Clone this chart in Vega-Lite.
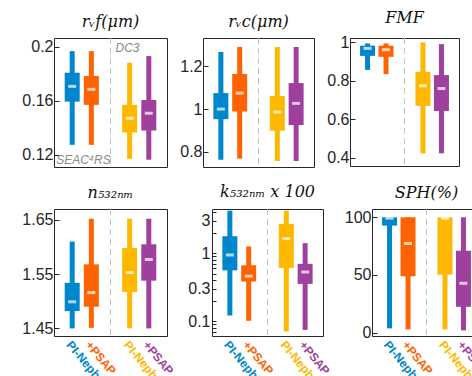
{
  "$schema": "https://vega.github.io/schema/vega-lite/v6.json",
  "autosize": {"type": "none"},
  "padding": {"left": 54, "top": 38, "right": 418, "bottom": 338},
  "background": "white",
  "spacing": 15,
  "config": {
    "view": {"stroke": "#262626", "strokeWidth": 1},
    "font": "Liberation Sans",
    "concat": {"spacing": 11},
    "title": {"font": "DejaVu Serif", "fontStyle": "italic", "fontWeight": "normal", "fontSize": 16, "color": "#111", "offset": 8},
    "axis": {"grid": false, "labelFont": "Liberation Sans", "labelFontSize": 16, "labelColor": "#262626", "domain": false, "tickColor": "#262626", "title": null}
  },
  "datasets": {
    "box": [
      {"p": "rvf", "inst": "A", "lo": 0.1274, "q1": 0.1594, "med": 0.1707, "q3": 0.1808, "hi": 0.1968},
      {"p": "rvf", "inst": "B", "lo": 0.1274, "q1": 0.157, "med": 0.1685, "q3": 0.1784, "hi": 0.1968},
      {"p": "rvf", "inst": "C", "lo": 0.1171, "q1": 0.1366, "med": 0.1471, "q3": 0.157, "hi": 0.1882},
      {"p": "rvf", "inst": "D", "lo": 0.1164, "q1": 0.138, "med": 0.1508, "q3": 0.1606, "hi": 0.1931},
      {"p": "rvc", "inst": "A", "lo": 0.763, "q1": 0.953, "med": 1.0, "q3": 1.075, "hi": 1.268},
      {"p": "rvc", "inst": "B", "lo": 0.768, "q1": 0.989, "med": 1.075, "q3": 1.164, "hi": 1.291},
      {"p": "rvc", "inst": "C", "lo": 0.757, "q1": 0.899, "med": 0.986, "q3": 1.061, "hi": 1.291},
      {"p": "rvc", "inst": "D", "lo": 0.757, "q1": 0.925, "med": 1.027, "q3": 1.122, "hi": 1.291},
      {"p": "fmf", "inst": "A", "lo": 0.857, "q1": 0.93, "med": 0.969, "q3": 0.983, "hi": 0.995},
      {"p": "fmf", "inst": "B", "lo": 0.835, "q1": 0.925, "med": 0.962, "q3": 0.983, "hi": 0.995},
      {"p": "fmf", "inst": "C", "lo": 0.423, "q1": 0.67, "med": 0.774, "q3": 0.847, "hi": 1.0},
      {"p": "fmf", "inst": "D", "lo": 0.423, "q1": 0.643, "med": 0.76, "q3": 0.83, "hi": 0.991},
      {"p": "n", "inst": "A", "lo": 1.45, "q1": 1.482, "med": 1.499, "q3": 1.534, "hi": 1.61},
      {"p": "n", "inst": "B", "lo": 1.451, "q1": 1.49, "med": 1.516, "q3": 1.568, "hi": 1.652},
      {"p": "n", "inst": "C", "lo": 1.45, "q1": 1.517, "med": 1.553, "q3": 1.598, "hi": 1.652},
      {"p": "n", "inst": "D", "lo": 1.45, "q1": 1.538, "med": 1.577, "q3": 1.605, "hi": 1.652},
      {"p": "k", "inst": "A", "lo": 0.122, "q1": 0.562, "med": 0.944, "q3": 1.78, "hi": 4.22},
      {"p": "k", "inst": "B", "lo": 0.102, "q1": 0.385, "med": 0.462, "q3": 0.668, "hi": 1.26},
      {"p": "k", "inst": "C", "lo": 0.071, "q1": 0.61, "med": 1.64, "q3": 2.69, "hi": 4.22},
      {"p": "k", "inst": "D", "lo": 0.075, "q1": 0.355, "med": 0.531, "q3": 0.7, "hi": 1.41},
      {"p": "sph", "inst": "A", "lo": 3.7, "q1": 92.8, "med": 99.3, "q3": 100, "hi": 100},
      {"p": "sph", "inst": "B", "lo": 2.8, "q1": 48.9, "med": 77.3, "q3": 100, "hi": 100},
      {"p": "sph", "inst": "C", "lo": 2.8, "q1": 50.3, "med": 99.3, "q3": 100, "hi": 100},
      {"p": "sph", "inst": "D", "lo": 2.0, "q1": 22.4, "med": 42.8, "q3": 71, "hi": 100}
    ],
    "sep": [{"inst": "S"}]
  },
  "vconcat": [
    {
      "hconcat": [
        {
          "width": 113, "height": 129,
          "title": "rᵥf(μm)",
          "layer": [
            {"data": {"name": "sep"}, "mark": {"type": "rule", "strokeDash": [6, 4], "color": "#c0c0c0", "strokeWidth": 1},
             "encoding": {"x": {"field": "inst", "type": "nominal", "scale": {"type": "point", "domain": ["A", "B", "S", "C", "D"], "padding": 0.95}, "axis": {"labels": false, "ticks": false}}}},
            {"data": {"name": "box"}, "transform": [{"filter": "datum.p == 'rvf'"}], "mark": {"type": "rule", "strokeWidth": 5},
             "encoding": {"x": {"field": "inst", "type": "nominal"},
               "y": {"field": "lo", "type": "quantitative", "scale": {"domain": [0.111, 0.2065], "nice": false, "zero": false}, "axis": {"values": [0.12, 0.16, 0.2], "format": "~g", "tickSize": -5, "labelPadding": 6}},
               "y2": {"field": "hi"},
               "color": {"field": "inst", "type": "nominal", "scale": {"domain": ["A", "B", "C", "D"], "range": ["#0086CC", "#FF6200", "#FFB800", "#A0409E"]}, "legend": null}}},
            {"data": {"name": "box"}, "transform": [{"filter": "datum.p == 'rvf'"}], "mark": {"type": "bar", "size": 15},
             "encoding": {"x": {"field": "inst", "type": "nominal"}, "y": {"field": "q1", "type": "quantitative"}, "y2": {"field": "q3"}, "color": {"field": "inst", "type": "nominal", "legend": null}}},
            {"data": {"name": "box"}, "transform": [{"filter": "datum.p == 'rvf'"}], "mark": {"type": "tick", "orient": "horizontal", "color": "white", "size": 8, "thickness": 3},
             "encoding": {"x": {"field": "inst", "type": "nominal"}, "y": {"field": "med", "type": "quantitative"}}},
            {"data": {"values": [{"inst": "A", "y": 0.1135, "t": "SEAC⁴RS"}]},
             "mark": {"type": "text", "align": "left", "baseline": "alphabetic", "dx": -16, "fontStyle": "italic", "fontSize": 12, "color": "#8a8a8a", "font": "Liberation Sans"},
             "encoding": {"x": {"field": "inst", "type": "nominal"}, "y": {"field": "y", "type": "quantitative"}, "text": {"field": "t"}}},
            {"data": {"values": [{"inst": "S", "y": 0.1958, "t": "DC3"}]},
             "mark": {"type": "text", "align": "left", "baseline": "alphabetic", "dx": 5, "fontStyle": "italic", "fontSize": 12, "color": "#8a8a8a", "font": "Liberation Sans"},
             "encoding": {"x": {"field": "inst", "type": "nominal"}, "y": {"field": "y", "type": "quantitative"}, "text": {"field": "t"}}}
          ]
        },
        {
          "width": 111, "height": 129,
          "title": "rᵥc(μm)",
          "layer": [
            {"data": {"name": "sep"}, "mark": {"type": "rule", "strokeDash": [6, 4], "color": "#c0c0c0", "strokeWidth": 1},
             "encoding": {"x": {"field": "inst", "type": "nominal", "scale": {"type": "point", "domain": ["A", "B", "S", "C", "D"], "padding": 0.95}, "axis": {"labels": false, "ticks": false}}}},
            {"data": {"name": "box"}, "transform": [{"filter": "datum.p == 'rvc'"}], "mark": {"type": "rule", "strokeWidth": 5},
             "encoding": {"x": {"field": "inst", "type": "nominal"},
               "y": {"field": "lo", "type": "quantitative", "scale": {"domain": [0.729, 1.333], "nice": false, "zero": false}, "axis": {"values": [0.8, 1, 1.2], "format": "~g", "tickSize": -5, "labelPadding": 6}},
               "y2": {"field": "hi"},
               "color": {"field": "inst", "type": "nominal", "scale": {"domain": ["A", "B", "C", "D"], "range": ["#0086CC", "#FF6200", "#FFB800", "#A0409E"]}, "legend": null}}},
            {"data": {"name": "box"}, "transform": [{"filter": "datum.p == 'rvc'"}], "mark": {"type": "bar", "size": 15},
             "encoding": {"x": {"field": "inst", "type": "nominal"}, "y": {"field": "q1", "type": "quantitative"}, "y2": {"field": "q3"}, "color": {"field": "inst", "type": "nominal", "legend": null}}},
            {"data": {"name": "box"}, "transform": [{"filter": "datum.p == 'rvc'"}], "mark": {"type": "tick", "orient": "horizontal", "color": "white", "size": 8, "thickness": 3},
             "encoding": {"x": {"field": "inst", "type": "nominal"}, "y": {"field": "med", "type": "quantitative"}}}
          ]
        },
        {
          "width": 109, "height": 128,
          "title": "FMF",
          "layer": [
            {"data": {"name": "sep"}, "mark": {"type": "rule", "strokeDash": [6, 4], "color": "#c0c0c0", "strokeWidth": 1},
             "encoding": {"x": {"field": "inst", "type": "nominal", "scale": {"type": "point", "domain": ["A", "B", "S", "C", "D"], "padding": 0.95}, "axis": {"labels": false, "ticks": false}}}},
            {"data": {"name": "box"}, "transform": [{"filter": "datum.p == 'fmf'"}], "mark": {"type": "rule", "strokeWidth": 5},
             "encoding": {"x": {"field": "inst", "type": "nominal"},
               "y": {"field": "lo", "type": "quantitative", "scale": {"domain": [0.357, 1.023], "nice": false, "zero": false}, "axis": {"values": [0.4, 0.6, 0.8, 1], "format": "~g", "tickSize": -5, "labelPadding": 6}},
               "y2": {"field": "hi"},
               "color": {"field": "inst", "type": "nominal", "scale": {"domain": ["A", "B", "C", "D"], "range": ["#0086CC", "#FF6200", "#FFB800", "#A0409E"]}, "legend": null}}},
            {"data": {"name": "box"}, "transform": [{"filter": "datum.p == 'fmf'"}], "mark": {"type": "bar", "size": 15},
             "encoding": {"x": {"field": "inst", "type": "nominal"}, "y": {"field": "q1", "type": "quantitative"}, "y2": {"field": "q3"}, "color": {"field": "inst", "type": "nominal", "legend": null}}},
            {"data": {"name": "box"}, "transform": [{"filter": "datum.p == 'fmf'"}], "mark": {"type": "tick", "orient": "horizontal", "color": "white", "size": 8, "thickness": 3},
             "encoding": {"x": {"field": "inst", "type": "nominal"}, "y": {"field": "med", "type": "quantitative"}}}
          ]
        }
      ]
    },
    {
      "hconcat": [
        {
          "width": 113, "height": 127,
          "title": "n₅₃₂ₙₘ",
          "layer": [
            {"data": {"name": "sep"}, "mark": {"type": "rule", "strokeDash": [6, 4], "color": "#c0c0c0", "strokeWidth": 1},
             "encoding": {"x": {"field": "inst", "type": "nominal", "scale": {"type": "point", "domain": ["A", "B", "S", "C", "D"], "padding": 0.95}, "axis": {"ticks": false, "labelExpr": "datum.value == 'A' || datum.value == 'C' ? 'PI-Neph' : datum.value == 'S' ? '' : '+PSAP'", "labelAngle": 50, "labelAlign": "left", "labelBaseline": "top", "labelFontWeight": "bold", "labelFontSize": 12, "labelPadding": 3, "labelColor": {"expr": "datum.value == 'A' ? '#0086CC' : datum.value == 'B' ? '#FF6200' : datum.value == 'C' ? '#FFB800' : '#A0409E'"}}}}},
            {"data": {"name": "box"}, "transform": [{"filter": "datum.p == 'n'"}], "mark": {"type": "rule", "strokeWidth": 5},
             "encoding": {"x": {"field": "inst", "type": "nominal"},
               "y": {"field": "lo", "type": "quantitative", "scale": {"domain": [1.436, 1.67], "nice": false, "zero": false}, "axis": {"values": [1.45, 1.55, 1.65], "format": ".2f", "tickSize": -5, "labelPadding": 6}},
               "y2": {"field": "hi"},
               "color": {"field": "inst", "type": "nominal", "scale": {"domain": ["A", "B", "C", "D"], "range": ["#0086CC", "#FF6200", "#FFB800", "#A0409E"]}, "legend": null}}},
            {"data": {"name": "box"}, "transform": [{"filter": "datum.p == 'n'"}], "mark": {"type": "bar", "size": 15},
             "encoding": {"x": {"field": "inst", "type": "nominal"}, "y": {"field": "q1", "type": "quantitative"}, "y2": {"field": "q3"}, "color": {"field": "inst", "type": "nominal", "legend": null}}},
            {"data": {"name": "box"}, "transform": [{"filter": "datum.p == 'n'"}], "mark": {"type": "tick", "orient": "horizontal", "color": "white", "size": 8, "thickness": 3},
             "encoding": {"x": {"field": "inst", "type": "nominal"}, "y": {"field": "med", "type": "quantitative"}}}
          ]
        },
        {
          "width": 111, "height": 127,
          "title": "k₅₃₂ₙₘ x 100",
          "layer": [
            {"data": {"name": "sep"}, "mark": {"type": "rule", "strokeDash": [6, 4], "color": "#c0c0c0", "strokeWidth": 1},
             "encoding": {"x": {"field": "inst", "type": "nominal", "scale": {"type": "point", "domain": ["A", "B", "S", "C", "D"], "padding": 0.95}, "axis": {"ticks": false, "labelExpr": "datum.value == 'A' || datum.value == 'C' ? 'PI-Neph' : datum.value == 'S' ? '' : '+PSAP'", "labelAngle": 50, "labelAlign": "left", "labelBaseline": "top", "labelFontWeight": "bold", "labelFontSize": 12, "labelPadding": 3, "labelColor": {"expr": "datum.value == 'A' ? '#0086CC' : datum.value == 'B' ? '#FF6200' : datum.value == 'C' ? '#FFB800' : '#A0409E'"}}}}},
            {"data": {"name": "box"}, "transform": [{"filter": "datum.p == 'k'"}], "mark": {"type": "rule", "strokeWidth": 5},
             "encoding": {"x": {"field": "inst", "type": "nominal"},
               "y": {"field": "lo", "type": "quantitative", "scale": {"type": "log", "domain": [0.061, 4.47], "nice": false}, "axis": {"values": [0.07, 0.08, 0.09, 0.1, 0.2, 0.3, 0.4, 0.5, 0.6, 0.7, 0.8, 0.9, 1, 2, 3, 4], "labelExpr": "indexof([0.1, 0.3, 1, 3], datum.value) >= 0 ? format(datum.value, '~g') : ''", "tickSize": -4, "labelPadding": 6}},
               "y2": {"field": "hi"},
               "color": {"field": "inst", "type": "nominal", "scale": {"domain": ["A", "B", "C", "D"], "range": ["#0086CC", "#FF6200", "#FFB800", "#A0409E"]}, "legend": null}}},
            {"data": {"name": "box"}, "transform": [{"filter": "datum.p == 'k'"}], "mark": {"type": "bar", "size": 15},
             "encoding": {"x": {"field": "inst", "type": "nominal"}, "y": {"field": "q1", "type": "quantitative"}, "y2": {"field": "q3"}, "color": {"field": "inst", "type": "nominal", "legend": null}}},
            {"data": {"name": "box"}, "transform": [{"filter": "datum.p == 'k'"}], "mark": {"type": "tick", "orient": "horizontal", "color": "white", "size": 8, "thickness": 3},
             "encoding": {"x": {"field": "inst", "type": "nominal"}, "y": {"field": "med", "type": "quantitative"}}}
          ]
        },
        {
          "width": 109, "height": 127,
          "title": "SPH(%)",
          "layer": [
            {"data": {"name": "sep"}, "mark": {"type": "rule", "strokeDash": [6, 4], "color": "#c0c0c0", "strokeWidth": 1},
             "encoding": {"x": {"field": "inst", "type": "nominal", "scale": {"type": "point", "domain": ["A", "B", "S", "C", "D"], "padding": 0.95}, "axis": {"ticks": false, "labelExpr": "datum.value == 'A' || datum.value == 'C' ? 'PI-Neph' : datum.value == 'S' ? '' : '+PSAP'", "labelAngle": 50, "labelAlign": "left", "labelBaseline": "top", "labelFontWeight": "bold", "labelFontSize": 12, "labelPadding": 3, "labelColor": {"expr": "datum.value == 'A' ? '#0086CC' : datum.value == 'B' ? '#FF6200' : datum.value == 'C' ? '#FFB800' : '#A0409E'"}}}}},
            {"data": {"name": "box"}, "transform": [{"filter": "datum.p == 'sph'"}], "mark": {"type": "rule", "strokeWidth": 5},
             "encoding": {"x": {"field": "inst", "type": "nominal"},
               "y": {"field": "lo", "type": "quantitative", "scale": {"domain": [-2.9, 107.2], "nice": false, "zero": false}, "axis": {"values": [0, 50, 100], "tickSize": -5, "labelPadding": 6}},
               "y2": {"field": "hi"},
               "color": {"field": "inst", "type": "nominal", "scale": {"domain": ["A", "B", "C", "D"], "range": ["#0086CC", "#FF6200", "#FFB800", "#A0409E"]}, "legend": null}}},
            {"data": {"name": "box"}, "transform": [{"filter": "datum.p == 'sph'"}], "mark": {"type": "bar", "size": 15},
             "encoding": {"x": {"field": "inst", "type": "nominal"}, "y": {"field": "q1", "type": "quantitative"}, "y2": {"field": "q3"}, "color": {"field": "inst", "type": "nominal", "legend": null}}},
            {"data": {"name": "box"}, "transform": [{"filter": "datum.p == 'sph'"}], "mark": {"type": "tick", "orient": "horizontal", "color": "white", "size": 8, "thickness": 3},
             "encoding": {"x": {"field": "inst", "type": "nominal"}, "y": {"field": "med", "type": "quantitative"}}}
          ]
        }
      ]
    }
  ]
}
